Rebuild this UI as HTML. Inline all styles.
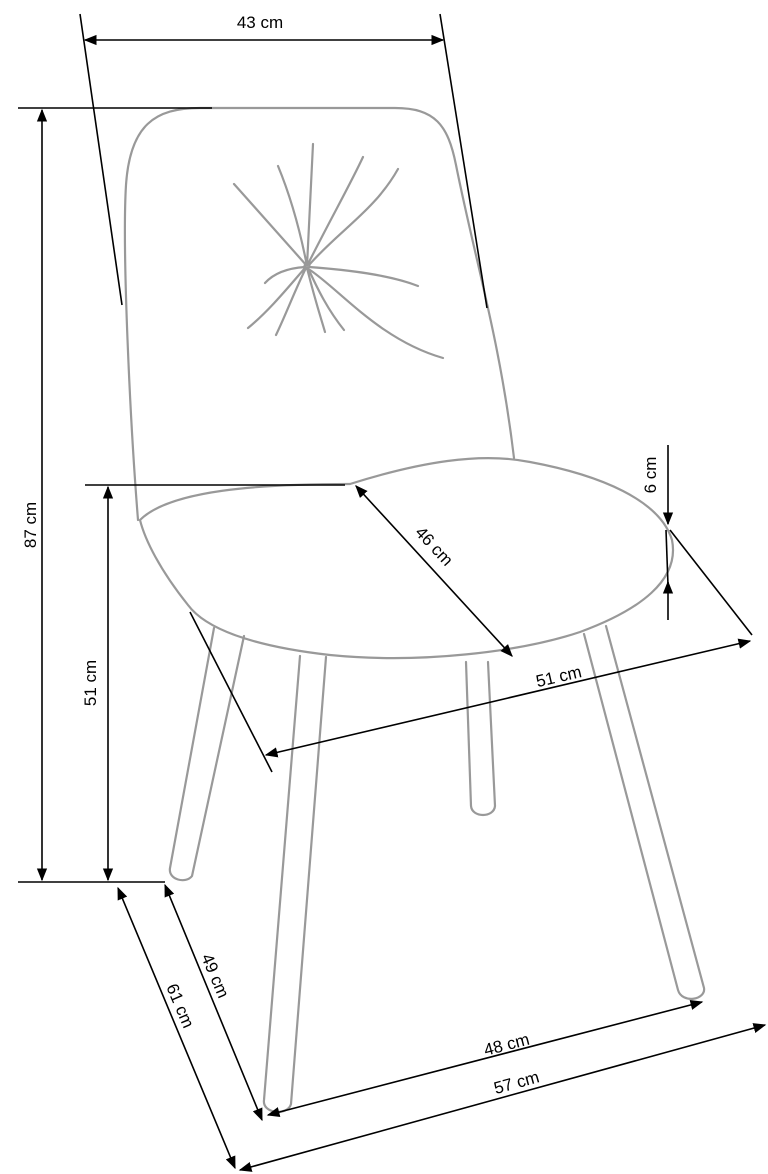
<!DOCTYPE html>
<html><head><style>html,body{margin:0;padding:0;background:#fff}svg{display:block}text{font-family:"Liberation Sans",sans-serif;font-size:17px;fill:#000}</style></head>
<body>
<svg width="768" height="1174" viewBox="0 0 768 1174" xmlns="http://www.w3.org/2000/svg">
<defs>
<marker id="a" viewBox="0 0 10 10" refX="9" refY="5" markerWidth="8" markerHeight="8" orient="auto-start-reverse"><path d="M0 1 L10 5 L0 9 Z" fill="#000"/></marker>
</defs>
<g fill="none" stroke="#999" stroke-width="2.2" stroke-linecap="round">
<!-- backrest -->
<path d="M138 520 C130 420 122 250 126 185 C130 125 155 108 200 108 L395 108 C435 108 448 125 456 165 C475 260 500 340 514 458"/>
<!-- seat -->
<path d="M140 520 C170 490 260 484 350 484 C420 462 480 452 530 462 C600 475 660 500 672 540 C680 580 640 610 580 632 C520 652 420 664 330 655 C250 646 205 628 188 605 C160 570 145 540 140 520 Z"/>
<!-- legs -->
<path d="M214 628 L170 868 C168 880 186 884 192 876 L244 636"/>
<path d="M300 656 L264 1100 C262 1114 288 1116 291 1104 L326 657"/>
<path d="M466 662 L471 806 C472 818 494 818 495 806 L488 662"/>
<path d="M584 634 L678 990 C682 1004 706 1000 704 988 L606 626"/>
<!-- tufting -->
<circle cx="307" cy="266" r="2.5"/>
<path d="M307 266 L234 184 M307 266 C300 230 290 195 278 166 M307 266 L313 144 M308 264 C330 220 350 185 363 157 M309 265 C340 230 375 210 398 169 M309 267 C350 270 390 275 418 286 M310 270 C340 290 380 340 443 358 M308 268 C318 290 328 310 344 330 M307 268 C315 300 320 315 325 332 M306 268 C295 290 287 312 276 335 M305 268 C290 285 270 310 248 328 M305 267 C290 268 275 272 265 283"/>
</g>
<g stroke="#000" stroke-width="1.6" fill="none">
<!-- 43 -->
<line x1="80" y1="14" x2="122" y2="305"/><line x1="440" y1="14" x2="487" y2="308"/>
<line x1="85" y1="40" x2="443" y2="40" marker-start="url(#a)" marker-end="url(#a)"/>
<!-- 87 -->
<line x1="18" y1="108" x2="212" y2="108"/><line x1="18" y1="882" x2="165" y2="882"/>
<line x1="42" y1="110" x2="42" y2="880" marker-start="url(#a)" marker-end="url(#a)"/>
<!-- 51 vertical -->
<line x1="85" y1="485" x2="345" y2="485"/>
<line x1="108" y1="487" x2="108" y2="880" marker-start="url(#a)" marker-end="url(#a)"/>
<!-- 46 -->
<line x1="356" y1="486" x2="512" y2="656" marker-start="url(#a)" marker-end="url(#a)"/>
<!-- 6 -->
<line x1="668" y1="445" x2="668" y2="524" marker-end="url(#a)"/>
<line x1="668" y1="620" x2="668" y2="582" marker-end="url(#a)"/>
<line x1="666" y1="530" x2="668" y2="585"/>
<!-- 51 horizontal -->
<line x1="190" y1="612" x2="272" y2="772"/><line x1="670" y1="530" x2="752" y2="635"/>
<line x1="266" y1="755" x2="750" y2="641" marker-start="url(#a)" marker-end="url(#a)"/>
<!-- 49 / 61 -->
<line x1="165" y1="885" x2="262" y2="1120" marker-start="url(#a)" marker-end="url(#a)"/>
<line x1="118" y1="888" x2="235" y2="1168" marker-start="url(#a)" marker-end="url(#a)"/>
<!-- 48 / 57 -->
<line x1="268" y1="1115" x2="702" y2="1002" marker-start="url(#a)" marker-end="url(#a)"/>
<line x1="240" y1="1170" x2="765" y2="1025" marker-start="url(#a)" marker-end="url(#a)"/>
</g>
<text x="260" y="28" text-anchor="middle">43 cm</text>
<text transform="translate(36,525) rotate(-90)" text-anchor="middle">87 cm</text>
<text transform="translate(96,683) rotate(-90)" text-anchor="middle">51 cm</text>
<text transform="translate(430,550) rotate(47)" text-anchor="middle">46 cm</text>
<text transform="translate(656,475) rotate(-90)" text-anchor="middle">6 cm</text>
<text transform="translate(560,682) rotate(-13)" text-anchor="middle">51 cm</text>
<text transform="translate(210,978) rotate(67)" text-anchor="middle">49 cm</text>
<text transform="translate(175,1008) rotate(67)" text-anchor="middle">61 cm</text>
<text transform="translate(508,1050) rotate(-14.6)" text-anchor="middle">48 cm</text>
<text transform="translate(518,1088) rotate(-15.4)" text-anchor="middle">57 cm</text>
</svg>
</body></html>
